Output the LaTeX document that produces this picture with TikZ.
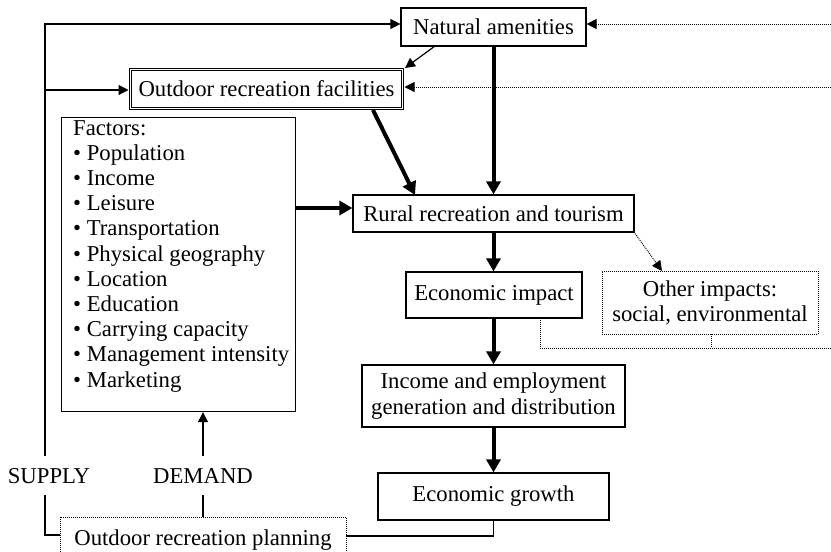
\documentclass[tikz,border=0pt]{standalone}
\usepackage{fontspec}
\setmainfont{Liberation Serif}
\usetikzlibrary{arrows.meta}
\newcommand\diafont{\fontsize{22.7}{25.2}\selectfont}
\begin{document}
\begin{tikzpicture}[x=1pt,y=-1pt,
  box/.style={draw, line width=1.2pt, inner sep=0pt, align=center, font=\diafont},
  dotbox/.style={draw, line width=0.9pt, dash pattern=on 1pt off 1pt, inner sep=0pt, align=center, font=\diafont},
  lbl/.style={inner sep=0pt, font=\diafont},
  thinline/.style={line width=1.2pt},
  thinarrow/.style={line width=1.2pt, -{Triangle[length=10pt,width=10pt]}},
  bigarrow/.style={line width=4pt, -{Triangle[length=13pt,width=14pt]}},
  dotline/.style={line width=0.9pt, dash pattern=on 1pt off 1pt},
  dotarrow/.style={line width=0.9pt, dash pattern=on 1pt off 1pt, -{Triangle[length=10pt,width=10pt,sep=0pt]}}
]
\useasboundingbox (0,0) rectangle (831,552);

% nodes
\node[box, minimum width=185pt, minimum height=38pt] (nat) at (493.5,27) {Natural amenities};
\node[box, double, double distance=1.6pt, line width=0.8pt, minimum width=272pt, minimum height=39pt] (fac) at (266.5,89) {Outdoor recreation facilities};
\node[box, minimum width=234pt, minimum height=294pt, anchor=north west] (factors) at (61,117) {};
\node[lbl, align=left, anchor=north west] (factorstext) at (73,120) {Factors:\\ • Population\\ • Income\\ • Leisure\\ • Transportation\\ • Physical geography\\ • Location\\ • Education\\ • Carrying capacity\\ • Management intensity\\ • Marketing};
\node[box, minimum width=281pt, minimum height=37pt] (rural) at (493.5,213.5) {Rural recreation and tourism};
\node[box, minimum width=176pt, minimum height=46pt] (econ) at (494,295) {Economic impact};
\node[dotbox, minimum width=216pt, minimum height=63pt] (other) at (710,302.5) {Other impacts:\\ social, environmental};
\node[box, minimum width=263pt, minimum height=62pt] (income) at (493.5,396) {Income and employment\\ generation and distribution};
\node[box, minimum width=231pt, minimum height=47pt] (growth) at (493.5,496.5) {Economic growth};
\node[dotbox, minimum width=286pt, minimum height=46pt] (plan) at (203,540) {Outdoor recreation planning};
\node[lbl] (supply) at (49,476) {SUPPLY};
\node[lbl] (demand) at (203,476) {DEMAND};

% coordinates
\coordinate (s1) at (45,456);
\coordinate (s2) at (45,24);
\coordinate (s3) at (45,90);
\coordinate (s4) at (45,495);
\coordinate (s5) at (45,535);
\coordinate (d1) at (203,456);
\coordinate (d2) at (203,495);
\coordinate (g1) at (493.5,536);
\coordinate (facout) at (373,110);
\coordinate (ruralin) at (415,195);
\coordinate (natout) at (435,46);
\coordinate (facin) at (405,68);
\coordinate (r1) at (831,24);
\coordinate (r2) at (831,87);
\coordinate (r3) at (831,348);
\coordinate (e1) at (540,318);
\coordinate (e2) at (540,348);
\coordinate (o1) at (711,348);
\coordinate (rr) at (634,232);
\coordinate (oin) at (662,271);
\coordinate (f1) at (295,208);

% supply / demand lines
\draw[thinarrow] (s1) -- (s2) -- (nat.west |- s2);
\draw[thinarrow, shorten >=1.6pt] (s3) -- (fac.west |- s3);
\draw[thinline] (plan.west |- s5) -- (s5) -- (s4);
\draw[thinarrow] (d1) -- (factors.south -| d1);
\draw[thinline] (d2) -- (plan.north -| d2);
\draw[thinline] (growth.south) -- (g1) -- (plan.east |- g1);

% thick arrows
\draw[bigarrow] (nat.south) -- (rural.north);
\draw[bigarrow] (facout) -- (ruralin);
\draw[bigarrow] (f1) -- (rural.west |- f1);
\draw[bigarrow] (rural.south) -- (econ.north -| rural.south);
\draw[bigarrow] (econ.south -| rural.south) -- (income.north);
\draw[bigarrow] (income.south) -- (growth.north);

% thin arrow
\draw[thinarrow] (natout) -- (facin);

% dotted
\draw[dotarrow] (r1) -- (nat.east |- r1);
\draw[dotarrow, shorten >=1.6pt] (r2) -- (fac.east |- r2);
\draw[dotarrow] (rr) -- (oin);
\draw[dotline] (e1) -- (e2) -- (r3);
\draw[dotline] (other.south -| o1) -- (o1);
\end{tikzpicture}
\end{document}
